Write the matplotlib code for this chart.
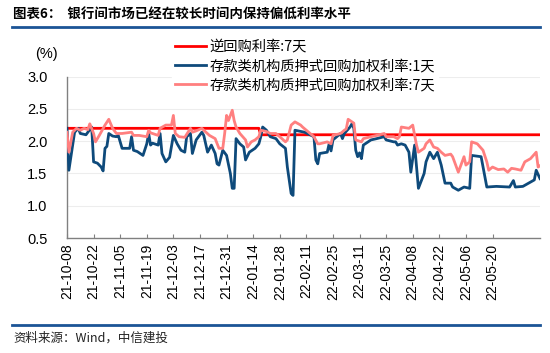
import matplotlib
matplotlib.use("Agg")
import matplotlib.pyplot as plt
import matplotlib.dates as mdates
import pandas as pd
from matplotlib.lines import Line2D

plt.rcParams['font.family'] = ['Noto Sans CJK SC', 'DejaVu Sans']

title = "图表6：  银行间市场已经在较长时间内保持偏低利率水平"
source = "资料来源：Wind，中信建投"
series_names = ["逆回购利率:7天", "存款类机构质押式回购加权利率:1天", "存款类机构质押式回购加权利率:7天"]

rr_dates = ["2021-10-08", "2022-01-17", "2022-01-18", "2022-06-14"]
rr_vals = [2.2, 2.2, 2.1, 2.1]

dr001_dates = ["2021-10-08","2021-10-09","2021-10-12","2021-10-14","2021-10-15","2021-10-18","2021-10-20","2021-10-21",
"2021-10-22","2021-10-24","2021-10-26","2021-10-27","2021-10-28","2021-10-29","2021-10-30","2021-11-01","2021-11-03",
"2021-11-04","2021-11-06","2021-11-10","2021-11-11","2021-11-12","2021-11-14","2021-11-17","2021-11-19","2021-11-20",
"2021-11-21","2021-11-22","2021-11-25","2021-11-26","2021-11-27","2021-11-29","2021-12-01","2021-12-03","2021-12-05",
"2021-12-07","2021-12-09","2021-12-10","2021-12-12","2021-12-13","2021-12-15","2021-12-18","2021-12-19","2021-12-21",
"2021-12-23","2021-12-25","2021-12-26","2021-12-27","2021-12-29","2021-12-31","2022-01-02","2022-01-03","2022-01-04",
"2022-01-05","2022-01-07","2022-01-09","2022-01-10","2022-01-12","2022-01-15","2022-01-17","2022-01-18","2022-01-19",
"2022-01-21","2022-01-23","2022-01-26","2022-01-28","2022-01-31","2022-02-01","2022-02-03","2022-02-04","2022-02-05",
"2022-02-10","2022-02-15","2022-02-16","2022-02-17","2022-02-18","2022-02-22","2022-02-23","2022-02-24","2022-02-25",
"2022-03-01","2022-03-02","2022-03-03","2022-03-06","2022-03-07","2022-03-08","2022-03-09","2022-03-10","2022-03-11",
"2022-03-12","2022-03-13","2022-03-17","2022-03-20","2022-03-24","2022-03-25","2022-03-29","2022-03-30","2022-03-31",
"2022-04-02","2022-04-04","2022-04-06","2022-04-07","2022-04-09","2022-04-11","2022-04-14","2022-04-15","2022-04-17",
"2022-04-19","2022-04-21","2022-04-23","2022-04-25","2022-04-28","2022-04-29","2022-05-02","2022-05-05","2022-05-08",
"2022-05-09","2022-05-14","2022-05-17","2022-05-22","2022-05-29","2022-05-31","2022-06-01","2022-06-05","2022-06-11",
"2022-06-12","2022-06-14"]
dr001_vals = [2.20,1.55,2.14,2.20,2.12,2.10,2.18,2.22,
1.68,1.66,1.60,1.54,1.89,1.92,2.12,2.08,2.07,
2.09,1.89,1.89,2.07,1.86,1.84,1.78,1.96,2.12,
1.94,1.97,1.94,2.12,1.81,1.68,1.75,2.09,1.96,
1.86,1.83,2.07,2.12,1.81,2.02,2.14,2.09,1.83,
1.94,1.81,1.65,1.63,1.86,1.78,1.50,1.27,1.27,
2.04,1.96,1.91,1.71,1.83,1.89,1.96,2.07,2.22,
2.17,2.07,2.04,1.96,1.89,1.60,1.19,1.16,2.17,
2.14,2.07,1.71,1.65,1.81,1.83,1.96,1.85,2.02,
2.12,2.04,2.12,2.22,2.27,2.20,1.86,1.76,1.82,
1.73,1.94,2.02,2.04,2.07,2.02,1.99,1.99,1.94,
1.96,1.94,1.83,1.52,1.94,1.27,1.50,1.68,1.83,
1.73,1.83,1.63,1.35,1.35,1.29,1.24,1.29,1.27,
1.78,1.76,1.29,1.30,1.29,1.39,1.29,1.30,1.40,
1.55,1.42]

dr007_dates = ["2021-10-08","2021-10-09","2021-10-11","2021-10-13","2021-10-15","2021-10-17","2021-10-19","2021-10-20",
"2021-10-22","2021-10-23","2021-10-25","2021-10-28","2021-10-30","2021-11-01","2021-11-03","2021-11-06","2021-11-11",
"2021-11-12","2021-11-15","2021-11-19","2021-11-20","2021-11-21","2021-11-25","2021-11-26","2021-11-29","2021-12-02",
"2021-12-03","2021-12-04","2021-12-06","2021-12-09","2021-12-12","2021-12-13","2021-12-15","2021-12-18","2021-12-19",
"2021-12-22","2021-12-25","2021-12-27","2021-12-29","2021-12-30","2021-12-31","2022-01-01","2022-01-03","2022-01-04",
"2022-01-05","2022-01-07","2022-01-10","2022-01-11","2022-01-13","2022-01-15","2022-01-17","2022-01-18","2022-01-21",
"2022-01-23","2022-01-26","2022-01-28","2022-01-31","2022-02-01","2022-02-03","2022-02-05","2022-02-08","2022-02-09",
"2022-02-15","2022-02-17","2022-02-18","2022-02-22","2022-02-24","2022-02-25","2022-03-01","2022-03-03","2022-03-04",
"2022-03-05","2022-03-08","2022-03-09","2022-03-12","2022-03-13","2022-03-17","2022-03-20","2022-03-24","2022-03-25",
"2022-03-29","2022-03-31","2022-04-01","2022-04-02","2022-04-06","2022-04-08","2022-04-10","2022-04-11","2022-04-14",
"2022-04-15","2022-04-17","2022-04-19","2022-04-21","2022-04-23","2022-04-25","2022-04-28","2022-04-29","2022-05-02",
"2022-05-05","2022-05-06","2022-05-08","2022-05-09","2022-05-12","2022-05-15","2022-05-17","2022-05-18","2022-05-20",
"2022-05-23","2022-05-26","2022-05-28","2022-05-30","2022-06-01","2022-06-04","2022-06-06","2022-06-09","2022-06-12",
"2022-06-13","2022-06-14"]
dr007_vals = [2.14,1.83,2.14,2.20,2.17,2.20,2.18,2.27,
2.12,1.99,2.09,2.25,2.34,2.20,2.12,2.12,2.14,
2.09,2.09,2.07,2.17,2.13,2.09,2.20,2.25,2.25,
2.40,2.12,2.07,2.06,2.20,2.14,2.16,2.20,2.17,
2.09,2.04,1.89,1.89,2.12,2.40,2.32,2.48,2.32,
2.22,2.12,2.02,1.91,1.99,2.02,2.07,2.17,2.15,
2.12,2.12,2.07,1.99,2.02,2.25,2.30,2.25,2.22,
2.07,1.96,1.96,1.99,1.96,2.09,2.12,2.17,2.19,
2.34,2.28,2.02,1.99,2.04,2.07,2.09,2.12,2.07,
2.07,2.04,2.07,2.22,2.20,2.25,1.94,1.83,1.89,
1.96,2.02,1.91,1.89,1.83,1.78,1.80,1.76,1.52,
1.76,1.63,1.68,1.99,1.96,1.86,1.68,1.55,1.60,
1.56,1.57,1.52,1.58,1.57,1.55,1.68,1.73,1.83,
1.60,1.62]

tick_dates = pd.date_range("2021-10-08", "2022-05-20", freq="14D")

fig = plt.figure(figsize=(5.5, 3.53), dpi=100)
ax = fig.add_axes([67/550, 1-238/353, (540-67)/550, (238-76.7)/353])

ax.plot(pd.to_datetime(rr_dates), rr_vals, color="#FF0000", lw=2.0, label=series_names[0], zorder=3)
ax.plot(pd.to_datetime(dr001_dates), dr001_vals, color="#0E4A7B", lw=2.0, label=series_names[1], zorder=4)
ax.plot(pd.to_datetime(dr007_dates), dr007_vals, color="#FF7F7F", lw=2.0, label=series_names[2], zorder=5)

ax.set_ylim(0.5, 3.0)
ax.set_yticks([0.5, 1.0, 1.5, 2.0, 2.5, 3.0])
ax.set_yticklabels(["0.5", "1.0", "1.5", "2.0", "2.5", "3.0"], family="Liberation Sans", fontsize=10.5)
ax.set_xlim(pd.Timestamp("2021-10-08"), pd.Timestamp("2022-06-14"))
ax.set_xticks(tick_dates)
ax.set_xticklabels([d.strftime("%y-%m-%d") for d in tick_dates], rotation=90, family="Liberation Sans", fontsize=10)
ax.grid(axis="y", color="#EDEDED", lw=0.8, zorder=0)
ax.set_axisbelow(True)
for s in ["top", "right"]:
    ax.spines[s].set_visible(False)
for s in ["left", "bottom"]:
    ax.spines[s].set_color("#808080")
    ax.spines[s].set_linewidth(1.0)
ax.tick_params(axis="x", direction="in", length=3, color="#808080", pad=4)
ax.tick_params(axis="y", direction="in", length=0, pad=14)

leg = ax.legend(loc="upper left", bbox_to_anchor=(172/550, 1-37/353), bbox_transform=fig.transFigure,
                frameon=True, fancybox=False, edgecolor="white", facecolor="white", framealpha=1,
                fontsize=10.3, handlelength=2.2, handletextpad=0.2, labelspacing=0.36, borderpad=0.2,
                borderaxespad=0)
leg.set_zorder(10)

fig.text(35/550, 1-54/353, "(%)", family="Liberation Sans", fontsize=10.5, va="center", ha="left")
fig.text(13/550, 1-14/353, title, fontsize=9.7, fontweight="bold", va="center", ha="left")
fig.add_artist(Line2D([12/550, 540/550], [1-27/353, 1-27/353], color="#1B5496", lw=2.0))
fig.add_artist(Line2D([12/550, 540/550], [1-325/353, 1-325/353], color="#1B5496", lw=2.0))
fig.text(13/550, 1-338/353, source, fontsize=9, style="italic", va="center", ha="left", color="#222222")

fig.savefig("out.png", dpi=100)
